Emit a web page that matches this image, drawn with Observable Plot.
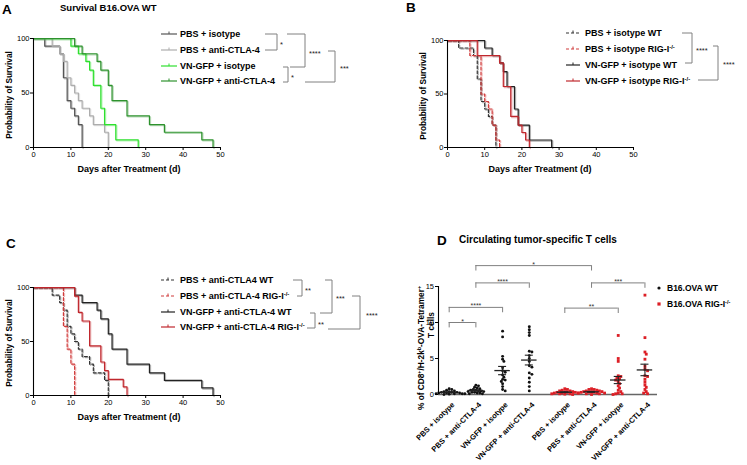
<!DOCTYPE html>
<html><head><meta charset="utf-8">
<script src="https://cdn.jsdelivr.net/npm/d3@7"></script>
<script src="https://cdn.jsdelivr.net/npm/@observablehq/plot@0.6"></script>
<style>
body{margin:0;background:#fff;}
#fig{position:relative;width:747px;height:465px;overflow:hidden;background:#fff;font-family:'Liberation Sans',Arial,sans-serif;}
#fig > svg, #fig > div{position:absolute;}
</style></head><body><div id="fig"></div>
<script>
const FONT = "'Liberation Sans', Arial, sans-serif";

// ---------------- Survival data (days of events, % surviving) ----------------
const daysPBSiso = [0,3,7,8,9,10,11,12,13];
const survPBSiso = [100,93,86,64,43,36,29,21,0];
const daysPBSctla = [0,5,7,8,9,10,11,12,13,15,16,19,20];
const survPBSctla = [100,93,86,79,64,57,50,43,36,29,21,14,0];
const daysVNiso = [0,10,12,14,15,16,18,19,22,28];
const survVNiso = [100,93,86,79,71,57,36,21,7,0];
const daysVNctla = [0,11,13,17,18,20,21,25,31,35,45,48];
const survVNctla = [100,93,86,79,71,57,43,29,21,14,7,0];
const daysPBSisoRIG = [0,6,9,10,11,12,13,14];
const survPBSisoRIG = [100,86,50,43,36,21,7,0];
const daysVNisoRIG = [0,8,14,15,17,19,20,21,22];
const survVNisoRIG = [100,86,79,57,29,21,14,7,0];
const daysPBSctlaRIG = [0,8,9,10,11];
const survPBSctlaRIG = [100,64,43,29,0];
const daysVNctlaRIG = [0,11,12,13,15,18,19,20,24,25];
const survVNctlaRIG = [100,92,77,69,46,31,23,15,8,0];

const labelsA = ["PBS + isotype","PBS + anti-CTLA-4","VN-GFP + isotype","VN-GFP + anti-CTLA-4"];
const labelsB = ["PBS + isotype WT","PBS + isotype RIG-I^{-/-}","VN-GFP + isotype WT","VN-GFP + isotype RIG-I^{-/-}"];
const labelsC = ["PBS + anti-CTLA4 WT","PBS + anti-CTLA-4 RIG-I^{-/-}","VN-GFP + anti-CTLA-4 WT","VN-GFP + anti-CTLA-4 RIG-I^{-/-}"];
const survTicksX = [0,10,20,30,40,50];
const survTicksY = [0,50,100];

// ---------------- Panel D data (% tetramer+ of CD8+) ----------------
const treatD = ["PBS + isotype","PBS + anti-CTLA-4","VN-GFP + isotype","VN-GFP + anti-CTLA-4"];
const genoD = ["B16.OVA WT","B16.OVA RIG-I^{-/-}"];
const wtPBSiso   = [0.8,0.7,0.6,0.5,0.4,0.4,0.3,0.3,0.3,0.2,0.2,0.2,0.1,0.1,0.1,0.1,0.05,0.0];
const wtPBSctla  = [1.3,1.2,1.0,0.9,0.8,0.7,0.6,0.6,0.5,0.5,0.4,0.4,0.3,0.3,0.2,0.2,0.1,0.1];
const wtVNiso    = [8.8,8.0,5.3,4.9,4.6,3.7,3.3,3.1,2.7,2.4,2.1,2.0,1.8,1.5,1.1,0.7,0.5];
const wtVNctla   = [9.4,9.0,8.6,8.2,6.0,5.9,5.4,5.0,4.6,4.0,3.8,3.0,2.8,2.3,1.7,1.1,0.5];
const rigPBSiso  = [0.8,0.7,0.6,0.5,0.5,0.4,0.4,0.3,0.3,0.3,0.2,0.2,0.2,0.1,0.1,0.1,0.05,0.0];
const rigPBSctla = [0.8,0.7,0.7,0.6,0.5,0.5,0.4,0.4,0.4,0.3,0.3,0.3,0.2,0.2,0.2,0.1,0.1,0.0];
const rigVNiso   = [8.2,5.0,4.6,2.6,2.5,2.3,2.2,2.0,1.8,1.5,1.2,0.9,0.6,0.4,0.2,0.1,0.1,0.0];
const rigVNctla  = [13.8,7.9,5.9,5.6,4.9,3.9,3.5,3.3,2.6,2.5,2.1,1.7,1.3,1.0,0.7,0.4,0.2,0.1];
const ticksD = [0,5,10,15];
const sigD = [
  {a:0,b:1,y:10.0,label:"*"},
  {a:0,b:2,y:12.1,label:"****"},
  {a:1,b:3,y:15.5,label:"****"},
  {a:1,b:5,y:17.9,label:"*"},
  {a:4,b:6,y:12.0,label:"**"},
  {a:5,b:7,y:15.5,label:"***"}
];

// ---------------- helpers ----------------
const fig = document.getElementById("fig");
function place(el, left, top){ el.style.left = left+"px"; el.style.top = top+"px"; fig.appendChild(el); }

function survivalPlot(days, survs, styles, g){
  const marks = [];
  days.forEach((ds,i)=>{
    const rows = ds.map((d,j)=>({day:d, surv:survs[i][j]}));
    const st = styles[i];
    marks.push(Plot.line(rows,{x:"day",y:"surv",curve:"step-after",stroke:st.stroke,strokeOpacity:0.35,strokeWidth:1.4,dx:1,dy:1,strokeDasharray:st.dash}));
    marks.push(Plot.line(rows,{x:"day",y:"surv",curve:"step-after",stroke:st.stroke,strokeWidth:1.2,strokeDasharray:st.dash}));
  });
  return Plot.plot({
    width:g.width, height:g.height, marginLeft:g.ml, marginRight:g.mr, marginTop:g.mt, marginBottom:g.mb,
    style:{fontFamily:FONT, background:"transparent", overflow:"visible", color:"#000"},
    x:{domain:[0,50]}, y:{domain:[0,100]},
    marks:[
      ...marks,
      Plot.ruleY([0],{stroke:"#000",strokeWidth:1.1}),
      Plot.ruleX([0],{stroke:"#000",strokeWidth:1.1}),
      Plot.axisX({ticks:survTicksX,tickSize:3,tickPadding:1.5,fontSize:7.5,label:null}),
      Plot.axisY({ticks:survTicksY,tickSize:3,tickPadding:1,fontSize:7.5,label:null})
    ]
  });
}

// Panel A
const stylesA = [{stroke:"#555"},{stroke:"#adadad"},{stroke:"#2ee02e"},{stroke:"#2e922e"}];
place(survivalPlot([daysPBSiso,daysPBSctla,daysVNiso,daysVNctla],[survPBSiso,survPBSctla,survVNiso,survVNctla],stylesA,
  {width:370,height:225,ml:33,mr:150,mt:38,mb:78}),0,0);
// Panel B
const stylesB = [{stroke:"#333",dash:"3,2"},{stroke:"#d03a3a",dash:"3,2"},{stroke:"#222"},{stroke:"#c0272d"}];
place(survivalPlot([daysPBSiso,daysPBSisoRIG,daysVNiso,daysVNisoRIG],[survPBSiso,survPBSisoRIG,survVNiso,survVNisoRIG],stylesB,
  {width:377,height:225,ml:77,mr:114,mt:40,mb:78}),370,0);
// Panel C
const stylesC = [{stroke:"#333",dash:"3,2"},{stroke:"#d03a3a",dash:"3,2"},{stroke:"#222"},{stroke:"#c0272d"}];
place(survivalPlot([daysPBSctla,daysPBSctlaRIG,daysVNctla,daysVNctlaRIG],[survPBSctla,survPBSctlaRIG,survVNctla,survVNctlaRIG],stylesC,
  {width:370,height:230,ml:33,mr:150,mt:52,mb:70}),0,235);

// Panel D
(function(){
  const W=377,H=240,ml=68,mr=90,mt=61,mb=71;
  const xDom=[0.6,8.8], yDom=[0,15];
  const pxX=(W-ml-mr)/(xDom[1]-xDom[0]), pxY=(H-mt-mb)/(yDom[1]-yDom[0]);
  const groups=[wtPBSiso,wtPBSctla,wtVNiso,wtVNctla,rigPBSiso,rigPBSctla,rigVNiso,rigVNctla];
  const pos = groups.map((g,i)=>1+i+(i>=4?0.33:0));
  const tickLabel = new Map(pos.map((p,i)=>[p,treatD[i%4]]));
  const r=1.45;
  function swarm(vals){
    const order=vals.map((v,i)=>i).sort((a,b)=>vals[b]-vals[a]);
    const placed=[], off=new Array(vals.length).fill(0), step=r*0.9;
    for(const i of order){
      const py=vals[i]*pxY;
      for(let k=0;k<60;k++){
        const c=(k%2?1:-1)*Math.ceil(k/2)*step;
        if(placed.every(p=>Math.hypot(p.x-c,p.y-py)>=2*r*0.75)){off[i]=c;placed.push({x:c,y:py});break;}
      }
    }
    return off.map(o=>o/pxX);
  }
  const dots=[];
  groups.forEach((g,i)=>{const off=swarm(g); g.forEach((v,j)=>dots.push({x:pos[i]+off[j],y:v,geno:i<4?0:1}));});
  const stats=groups.map((g,i)=>{const m=d3.mean(g), s=d3.deviation(g)/Math.sqrt(g.length); return {pos:pos[i],mean:m,lo:m-s,hi:m+s};});
  const sig=sigD.map(s=>({x1:pos[s.a],x2:pos[s.b],y:s.y,yl:s.y-0.75,mid:(pos[s.a]+pos[s.b])/2,label:s.label}));
  const p=Plot.plot({
    width:W,height:H,marginLeft:ml,marginRight:mr,marginTop:mt,marginBottom:mb,
    style:{fontFamily:FONT,background:"transparent",overflow:"visible",color:"#000"},
    x:{domain:xDom}, y:{domain:yDom},
    marks:[
      Plot.ruleY([0],{stroke:"#666",strokeWidth:1.6}),
      Plot.dot(dots.filter(d=>d.geno===0),{x:"x",y:"y",r:r,fill:"#111",stroke:null}),
      Plot.dot(dots.filter(d=>d.geno===1),{x:"x",y:"y",r:r*1.1,symbol:"square",fill:"#dc1f26",stroke:null}),
      Plot.ruleY(stats,{x1:d=>d.pos-0.29,x2:d=>d.pos+0.29,y:"mean",stroke:"#222",strokeWidth:1.3}),
      Plot.ruleX(stats,{x:"pos",y1:"lo",y2:"hi",stroke:"#222",strokeWidth:1.1}),
      Plot.ruleY(stats,{x1:d=>d.pos-0.15,x2:d=>d.pos+0.15,y:"hi",stroke:"#222",strokeWidth:1.1}),
      Plot.ruleY(stats,{x1:d=>d.pos-0.15,x2:d=>d.pos+0.15,y:"lo",stroke:"#222",strokeWidth:1.1}),
      Plot.ruleY(sig,{x1:"x1",x2:"x2",y:"y",stroke:"#808080",strokeWidth:1}),
      Plot.ruleX(sig,{x:"x1",y1:"yl",y2:"y",stroke:"#808080",strokeWidth:1}),
      Plot.ruleX(sig,{x:"x2",y1:"yl",y2:"y",stroke:"#808080",strokeWidth:1}),
      Plot.text(sig,{x:"mid",y:"y",text:"label",lineAnchor:"bottom",dy:1,fontSize:7,fill:"#333"}),
      Plot.ruleX([xDom[0]],{y1:0,y2:15,stroke:"#000",strokeWidth:1.1}),
      Plot.axisY({ticks:ticksD,tickSize:3,tickPadding:1.5,fontSize:7.5,label:null}),
      Plot.axisX({ticks:pos,tickFormat:d=>tickLabel.get(d),tickRotate:-45,tickSize:0,tickPadding:9,dx:4,fontSize:7.5,fontWeight:"bold",label:null})
    ]
  });
  place(p,370,225);
})();

// ---------------- overlay text, legends, brackets ----------------
const ov = d3.select(fig).append("svg").attr("width",747).attr("height",465)
  .style("left","0px").style("top","0px").style("pointer-events","none").attr("font-family",FONT);

function txt(x,y,s,o={}){
  const size=o.size||9, t=ov.append("text").attr("font-size",size).attr("font-weight",o.weight||"bold")
    .attr("text-anchor",o.anchor||"start").attr("fill",o.fill||"#000");
  if(o.rotate) t.attr("transform",`translate(${x},${y}) rotate(${o.rotate})`); else t.attr("x",x).attr("y",y);
  const parts=s.split(/\^\{(.*?)\}/); let shift=0;
  parts.forEach((p,i)=>{
    if(!p) return;
    const sp=t.append("tspan").text(p);
    if(i%2){ sp.attr("font-size",size*0.65).attr("dy",-size*0.4-shift); shift=-size*0.4; }
    else { if(shift){ sp.attr("dy",-shift); shift=0; } }
  });
  return t;
}
function path(d,stroke="#808080",w=1,dash=null){
  const p=ov.append("path").attr("d",d).attr("fill","none").attr("stroke",stroke).attr("stroke-width",w);
  if(dash) p.attr("stroke-dasharray",dash);
}
function legend(x0,x1,tx,ys,labels,styles,size){
  ys.forEach((y,i)=>{
    const st=styles[i];
    path(`M${x0},${y}H${x1}`,st.stroke,1.2,st.dash);
    path(`M${(x0+x1)/2},${y-2.5}V${y}`,st.stroke,1);
    txt(tx,y+3.2,labels[i],{size});
  });
}
function star(x,yc,s,size=7.5){ txt(x,yc+size*0.62,s,{size,weight:"normal",fill:"#222"}); }

// panel letters & titles
txt(2,13.5,"A",{size:13.5});
txt(60,10.5,"Survival B16.OVA WT",{size:9.5});
txt(406,11.5,"B",{size:13.5});
txt(6,247.5,"C",{size:13.5});
txt(437,245,"D",{size:13.5});
txt(538,243,"Circulating tumor-specific T cells",{size:10,anchor:"middle"});

// axis titles
txt(12,95,"Probability of Survival",{size:8.3,anchor:"middle",rotate:-90});
txt(129,172,"Days after Treatment (d)",{size:9,anchor:"middle"});
txt(426,96,"Probability of Survival",{size:8.3,anchor:"middle",rotate:-90});
txt(540,172,"Days after Treatment (d)",{size:9,anchor:"middle"});
txt(12,343,"Probability of Survival",{size:8.3,anchor:"middle",rotate:-90});
txt(129,420,"Days after Treatment (d)",{size:9,anchor:"middle"});
txt(424,348,"% of CD8^{+}/H-2k^{b}-OVA-Tetramer^{+}",{size:8.3,anchor:"middle",rotate:-90});
txt(434,325,"T cells",{size:8.3,anchor:"middle",rotate:-90});

// legends
legend(161,177,180,[34,50,66,81],labelsA,stylesA,9);
legend(566,580,585,[33,49,65,81],labelsB,stylesB,9);
legend(161,175,180,[280,296,312,327],labelsC,stylesC,9);

// brackets A
path("M265,34H277V50H265"); star(280,42,"*");
path("M283,67H288V82H283"); star(291,75,"*");
path("M287,34H305V67H290"); star(309,51,"****");
path("M328,51H335V82H305"); star(340,66,"***");
// brackets B
path("M682,33H692V63H685"); star(696,48,"****");
path("M713,46H718V80H698"); star(723,62,"****");
// brackets C
path("M293,280H302V296H297"); star(305,288,"**");
path("M310,313H315V328H307"); star(318,322,"**");
path("M325,280H332V313H320"); star(336,296,"***");
path("M352,296H360V329H328"); star(366,313,"****");

// legend D
ov.append("circle").attr("cx",659).attr("cy",288).attr("r",1.6).attr("fill","#111");
ov.append("rect").attr("x",657.4).attr("y",302.4).attr("width",3.2).attr("height",3.2).attr("fill","#dc1f26");
txt(667,291,genoD[0],{size:8.5});
txt(667,307,genoD[1],{size:8.5});
</script></body></html>
